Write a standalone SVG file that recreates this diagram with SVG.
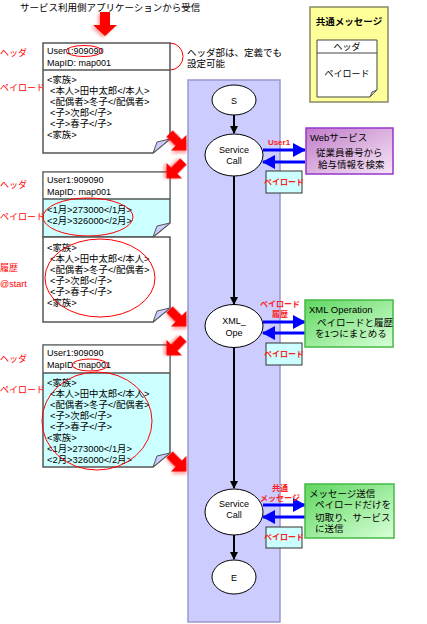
<svg xmlns="http://www.w3.org/2000/svg" width="427" height="624" viewBox="0 0 427 624">
<style>
text{font-family:"Liberation Sans","Noto Sans CJK JP",sans-serif;fill:#000;}
.t9{font-size:9px;}
.tp{font-size:9.4px;}
.t10{font-size:9.5px;}
.red{fill:#ff0000;font-size:9px;}
.rs{fill:#ff2020;font-size:8px;font-weight:bold;}
.doc{stroke:#555;stroke-width:1.5;}
.sep{stroke:#555;stroke-width:1.5;}
.fold{fill:#ccccff;stroke:#555;stroke-width:1;}
.ell{fill:#fff;stroke:#000;stroke-width:1;}
.flow{stroke:#000;stroke-width:2;fill:none;}
.blue{stroke:#0000ff;stroke-width:3;fill:none;}
.rring{fill:none;stroke:#ff0000;stroke-width:1;}
.pl{fill:#ccffff;stroke:#333;stroke-width:1;}
.bigarrow{fill:#ff0000;filter:url(#blur);}
</style>
<defs>
<filter id="blur" x="-50%" y="-50%" width="200%" height="200%">
<feDropShadow dx="2" dy="2" stdDeviation="1.5" flood-color="#ff0000" flood-opacity="0.35"/>
</filter>
<linearGradient id="gPurple" x1="0" y1="0" x2="1" y2="1">
<stop offset="0" stop-color="#c07cc8"/><stop offset="1" stop-color="#f6e6f6"/>
</linearGradient>
<linearGradient id="gGreen" x1="0" y1="0" x2="1" y2="1">
<stop offset="0" stop-color="#5fd75f"/><stop offset="1" stop-color="#d8ffd8"/>
</linearGradient>
<marker id="ah" markerWidth="8" markerHeight="8" refX="7" refY="4" orient="auto" markerUnits="userSpaceOnUse">
<path d="M0,0 L8,4 L0,8 Z" fill="#000"/>
</marker>
<marker id="bh" markerWidth="13" markerHeight="14" refX="12" refY="7" orient="auto" markerUnits="userSpaceOnUse">
<path d="M0,0 L13,7 L0,14 Z" fill="#0000ff"/>
</marker>
<path id="rarrow" d="M-12,-4.5 L1,-4.5 L1,-11 L12,0 L1,11 L1,4.5 L-12,4.5 Z"/>
</defs>

<!-- lane -->
<rect id="lane" x="188" y="80" width="92" height="542" fill="#ccccff" stroke="#9999cc" stroke-width="1.5"/>

<!-- title -->
<text class="t10" x="20" y="11">サービス利用側アプリケーションから受信</text>
<use href="#rarrow" transform="translate(105,24) rotate(90) scale(1,1.1)" class="bigarrow"/>

<!-- legend -->
<g id="legend">
<rect x="310" y="7" width="78" height="95" fill="#ffff99" stroke="#888866" stroke-width="1.5"/>
<text class="t10" x="349" y="25" text-anchor="middle" font-weight="bold">共通メッセージ</text>
<path d="M317,40 H377 V90 L370,97 H317 Z" fill="#fff" stroke="#444" stroke-width="1"/>
<line x1="317" y1="53" x2="377" y2="53" stroke="#444" stroke-width="1"/>
<path d="M377,90 L370,97 L372,92 Z" class="fold"/>
<text class="t9" x="347" y="50" text-anchor="middle">ヘッダ</text>
<text class="t9" x="347" y="77" text-anchor="middle">ペイロード</text>
</g>

<!-- header note -->
<g id="note">
<path d="M170,43 A13 13.5 0 0 1 170,70" fill="none" stroke="#ff0000" stroke-width="1"/>
<text class="t10" x="187" y="56">ヘッダ部は、定義でも</text>
<text class="t10" x="187" y="67">設定可能</text>
</g>

<!-- doc 1 -->
<g id="doc1">
<path class="doc" d="M43,43 H170 V139 L153,153 H43 Z" fill="#fff"/>
<line class="sep" x1="43" y1="70" x2="170" y2="70"/>
<path class="fold" d="M170,139 L153,153 L157,142 Z"/>
<text class="t9" x="47" y="54">User1:909090</text>
<text class="t9" x="47" y="66">MapID: map001</text>
<ellipse class="rring" cx="84" cy="51" rx="18" ry="5.5"/>
<text class="tp" x="47" y="83">&lt;家族&gt;</text>
<text class="tp" x="50" y="94">&lt;本人&gt;田中太郎&lt;/本人&gt;</text>
<text class="tp" x="50" y="105">&lt;配偶者&gt;冬子&lt;/配偶者&gt;</text>
<text class="tp" x="50" y="116">&lt;子&gt;次郎&lt;/子&gt;</text>
<text class="tp" x="50" y="127">&lt;子&gt;春子&lt;/子&gt;</text>
<text class="tp" x="47" y="138">&lt;家族&gt;</text>
<text class="red" x="0" y="56">ヘッダ</text>
<text class="red" x="0" y="91">ペイロード</text>
</g>

<!-- doc 2 -->
<g id="doc2">
<path class="doc" d="M43,172 H170 V223 L153,237 H43 Z" fill="#ccffff"/>
<rect x="43.75" y="172.75" width="125.5" height="26" fill="#fff"/>
<line class="sep" x1="43" y1="199" x2="170" y2="199"/>
<path class="fold" d="M170,223 L153,237 L157,226 Z"/>
<text class="t9" x="47" y="183">User1:909090</text>
<text class="t9" x="47" y="195">MapID: map001</text>
<text class="tp" x="47" y="213">&lt;1月&gt;273000&lt;/1月&gt;</text>
<text class="tp" x="47" y="224">&lt;2月&gt;326000&lt;/2月&gt;</text>
<ellipse class="rring" cx="88" cy="217" rx="45" ry="19"/>
<text class="red" x="0" y="188">ヘッダ</text>
<text class="red" x="0" y="220">ペイロード</text>
</g>

<!-- doc 3 -->
<g id="doc3">
<path class="doc" d="M43,237 H170 V308 L153,322 H43 Z" fill="#fff"/>
<path class="fold" d="M170,308 L153,322 L157,311 Z"/>
<text class="tp" x="47" y="251">&lt;家族&gt;</text>
<text class="tp" x="50" y="262">&lt;本人&gt;田中太郎&lt;/本人&gt;</text>
<text class="tp" x="50" y="273">&lt;配偶者&gt;冬子&lt;/配偶者&gt;</text>
<text class="tp" x="50" y="284">&lt;子&gt;次郎&lt;/子&gt;</text>
<text class="tp" x="50" y="295">&lt;子&gt;春子&lt;/子&gt;</text>
<text class="tp" x="47" y="306">&lt;家族&gt;</text>
<ellipse class="rring" cx="100" cy="278" rx="55" ry="39"/>
<text class="red" x="0" y="271" font-size="10">履歴</text>
<text class="red" x="0" y="287" font-size="8">@start</text>
</g>

<!-- doc 4 -->
<g id="doc4">
<path class="doc" d="M43,345 H170 V453 L153,467 H43 Z" fill="#ccffff"/>
<rect x="43.75" y="345.75" width="125.5" height="27" fill="#fff"/>
<line class="sep" x1="43" y1="373" x2="170" y2="373"/>
<path class="fold" d="M170,453 L153,467 L157,456 Z"/>
<text class="t9" x="47" y="356">User1:909090</text>
<text class="t9" x="47" y="368">MapID: map001</text>
<ellipse class="rring" cx="90" cy="365" rx="18" ry="6"/>
<text class="tp" x="47" y="386">&lt;家族&gt;</text>
<text class="tp" x="50" y="397">&lt;本人&gt;田中太郎&lt;/本人&gt;</text>
<text class="tp" x="50" y="408">&lt;配偶者&gt;冬子&lt;/配偶者&gt;</text>
<text class="tp" x="50" y="419">&lt;子&gt;次郎&lt;/子&gt;</text>
<text class="tp" x="50" y="430">&lt;子&gt;春子&lt;/子&gt;</text>
<text class="tp" x="47" y="441">&lt;家族&gt;</text>
<text class="tp" x="47" y="452">&lt;1月&gt;273000&lt;/1月&gt;</text>
<text class="tp" x="47" y="463">&lt;2月&gt;326000&lt;/2月&gt;</text>
<ellipse class="rring" cx="97" cy="421" rx="55" ry="49"/>
<text class="red" x="0" y="362">ヘッダ</text>
<text class="red" x="0" y="393">ペイロード</text>
</g>

<!-- red block arrows -->
<g id="redarrows">
<use href="#rarrow" transform="translate(178,142) rotate(45)" class="bigarrow"/>
<use href="#rarrow" transform="translate(175,170) rotate(135)" class="bigarrow"/>
<use href="#rarrow" transform="translate(178,318) rotate(45)" class="bigarrow"/>
<use href="#rarrow" transform="translate(175,347) rotate(135)" class="bigarrow"/>
<use href="#rarrow" transform="translate(178,463) rotate(45)" class="bigarrow"/>
</g>

<!-- connectors -->
<g id="connectors">
<line class="flow" x1="234" y1="115" x2="234" y2="133" marker-end="url(#ah)"/>
<line class="flow" x1="234" y1="176" x2="234" y2="304" marker-end="url(#ah)"/>
<line class="flow" x1="234" y1="348" x2="234" y2="488" marker-end="url(#ah)"/>
<line class="flow" x1="234" y1="535" x2="234" y2="559" marker-end="url(#ah)"/>
<line class="blue" x1="263" y1="150" x2="305" y2="150" marker-end="url(#bh)"/>
<line class="blue" x1="305" y1="162" x2="263" y2="162" marker-end="url(#bh)"/>
<line class="blue" x1="263" y1="322" x2="305" y2="322" marker-end="url(#bh)"/>
<line class="blue" x1="305" y1="333" x2="263" y2="333" marker-end="url(#bh)"/>
<line class="blue" x1="263" y1="505" x2="305" y2="505" marker-end="url(#bh)"/>
<line class="blue" x1="305" y1="517" x2="263" y2="517" marker-end="url(#bh)"/>
<text class="rs" x="279" y="145" text-anchor="middle">User1</text>
<text class="rs" x="280" y="307" text-anchor="middle">ペイロード</text>
<text class="rs" x="280" y="317" text-anchor="middle">履歴</text>
<text class="rs" x="280" y="491" text-anchor="middle">共通</text>
<text class="rs" x="280" y="501" text-anchor="middle">メッセージ</text>
</g>

<!-- flow nodes -->
<g id="S"><ellipse class="ell" cx="234" cy="100" rx="22" ry="15"/><text class="t9" x="234" y="104" text-anchor="middle">S</text></g>
<g id="SC1"><ellipse class="ell" cx="234" cy="155" rx="29" ry="21"/><text class="t9" x="234" y="153" text-anchor="middle">Service</text><text class="t9" x="234" y="164" text-anchor="middle">Call</text></g>
<g id="XML"><ellipse class="ell" cx="234" cy="326" rx="29" ry="21.5"/><text class="t9" x="234" y="324" text-anchor="middle">XML_</text><text class="t9" x="234" y="336" text-anchor="middle">Ope</text></g>
<g id="SC2"><ellipse class="ell" cx="234" cy="512" rx="29" ry="23"/><text class="t9" x="234" y="507" text-anchor="middle">Service</text><text class="t9" x="234" y="518" text-anchor="middle">Call</text></g>
<g id="E"><ellipse class="ell" cx="234" cy="577" rx="22" ry="17"/><text class="t9" x="234" y="581" text-anchor="middle">E</text></g>

<!-- payload tags -->
<g id="pl1"><rect class="pl" x="266" y="171" width="36" height="22"/><text class="rs" x="284" y="185" text-anchor="middle">ペイロード</text></g>
<g id="pl2"><rect class="pl" x="266" y="343" width="36" height="22"/><text class="rs" x="284" y="357" text-anchor="middle">ペイロード</text></g>
<g id="pl3"><rect class="pl" x="266" y="527" width="36" height="21"/><text class="rs" x="284" y="540" text-anchor="middle">ペイロード</text></g>

<!-- service boxes -->
<g id="web">
<rect x="306" y="128" width="87" height="46" fill="url(#gPurple)" stroke="#9933cc" stroke-width="1.5"/>
<text class="t10" x="310" y="141" font-size="10.5">Webサービス</text>
<text class="t10" x="316" y="156">従業員番号から</text>
<text class="t10" x="318" y="168">給与情報を検索</text>
</g>
<g id="xmlop">
<rect x="305" y="300" width="88" height="47" fill="url(#gGreen)" stroke="#44bb44" stroke-width="1.5"/>
<text class="t10" x="309" y="313">XML Operation</text>
<text class="t10" x="317" y="326">ペイロードと履歴</text>
<text class="t10" x="315" y="337">を1つにまとめる</text>
</g>
<g id="msgsend">
<rect x="305" y="484" width="89" height="54" fill="url(#gGreen)" stroke="#44bb44" stroke-width="1.5"/>
<text class="t10" x="309" y="497">メッセージ送信</text>
<text class="t10" x="315" y="508">ペイロードだけを</text>
<text class="t10" x="315" y="521">切取り、サービス</text>
<text class="t10" x="315" y="532">に送信</text>
</g>
</svg>
